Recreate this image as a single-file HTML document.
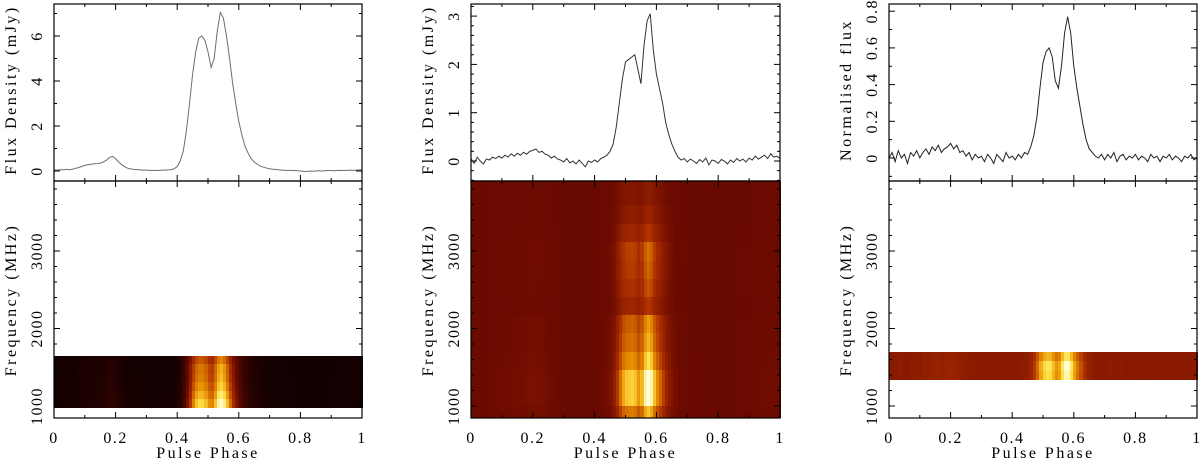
<!DOCTYPE html>
<html><head><meta charset="utf-8"><style>
html,body{margin:0;padding:0;background:#fff;}
svg{display:block;font-family:"Liberation Serif",serif;}
</style></head><body>
<svg id="fig" width="1200" height="460" viewBox="0 0 1200 460" xmlns="http://www.w3.org/2000/svg"></svg>
<script>
// ---- data ----
const phaseTicks = [0, 0.2, 0.4, 0.6, 0.8, 1];
const phaseTickLabels = ["0", "0.2", "0.4", "0.6", "0.8", "1"];
const freqTicks = [1000, 2000, 3000];
const freqTickLabels = ["1000", "2000", "3000"];

const profileA = [0.05,0.04,0.06,0.05,0.07,0.06,0.08,0.12,0.15,0.2,
0.25,0.28,0.3,0.32,0.33,0.35,0.4,0.48,0.6,0.65,
0.55,0.4,0.28,0.18,0.12,0.09,0.07,0.06,0.05,0.04,
0.04,0.03,0.03,0.02,0.03,0.04,0.04,0.05,0.06,0.1,
0.2,0.45,0.9,1.8,3.0,4.3,5.3,5.9,6.0,5.8,
5.3,4.6,5.0,6.2,7.05,6.8,6.0,5.0,3.9,3.0,
2.2,1.6,1.1,0.8,0.55,0.4,0.3,0.22,0.17,0.13,
0.1,0.08,0.07,0.05,0.04,0.03,0.03,0.02,0.02,0.01,
0.0,-0.01,-0.02,0,-0.01,0,0.01,0,0.01,0.02,
0.02,0.01,0.02,0.03,0.02,0.03,0.04,0.03,0.04,0.05,0.05];

const profileB = [0.05,-0.05,0.08,0.0,-0.06,0.04,0.02,0.08,0.05,0.1,
0.06,0.12,0.08,0.15,0.1,0.16,0.12,0.18,0.14,0.2,
0.22,0.25,0.18,0.2,0.14,0.12,0.06,0.1,0.04,0.02,
-0.02,0.05,-0.04,0.0,-0.06,0.02,-0.05,-0.12,0.0,-0.03,
0.02,-0.02,0.05,0.08,0.12,0.2,0.35,0.7,1.2,1.7,
2.05,2.1,2.15,2.2,1.9,1.6,2.4,2.9,3.05,2.3,
1.8,1.5,1.2,0.8,0.55,0.35,0.2,0.08,0.02,0.05,
-0.02,0.04,0.0,-0.05,0.03,-0.02,0.06,-0.08,0.02,0.0,
-0.05,0.03,0.0,-0.06,0.02,-0.03,0.05,0.0,0.04,-0.02,
0.06,0.02,0.1,0.04,0.08,0.12,0.05,0.15,0.08,0.1,0.05];

const profileC = [0.0,0.03,-0.02,0.04,0.0,0.02,-0.03,0.03,0.01,0.04,
0.0,0.03,0.05,0.02,0.06,0.04,0.07,0.03,0.05,0.06,
0.08,0.05,0.07,0.03,0.04,0.01,0.03,-0.01,0.02,0.0,
0.01,-0.02,0.02,0.0,-0.03,0.02,0.0,-0.02,0.03,0.0,
0.01,-0.01,0.02,0.0,0.03,0.02,0.06,0.12,0.22,0.38,
0.52,0.58,0.6,0.55,0.42,0.38,0.5,0.68,0.77,0.68,
0.5,0.38,0.28,0.18,0.1,0.05,0.03,0.01,0.0,0.02,
-0.01,0.02,0.0,0.03,-0.02,0.01,0.02,-0.01,0.01,0.0,
0.02,-0.01,0.01,0.0,-0.02,0.02,0.0,0.01,-0.02,0.01,
0.0,0.02,-0.01,0.01,0.0,-0.02,0.01,0.0,0.02,-0.01,0.0];

// frequency channel edges (MHz) and channel gains
const chanEdgesA = [990, 1100, 1210, 1320, 1430, 1540, 1650];
const chanGainA = [1.0, 0.92, 0.85, 0.8, 0.78, 0.7];
const chanEdgesB = [860, 1010, 1245, 1480, 1715, 1950, 2185, 2420, 2655, 2890, 3125, 3360, 3595, 3900];
const chanGainB = [0.7, 1.0, 1.0, 0.78, 0.66, 0.6, 0.32, 0.4, 0.45, 0.48, 0.32, 0.22, 0.16];
const chanEdgesC = [1350, 1465, 1580, 1700];
const chanGainC = [0.95, 1.0, 0.8];

// ---- drawing ----
const NS = "http://www.w3.org/2000/svg";
const svg = document.getElementById("fig");
function mk(tag, attrs, parent) {
  const e = document.createElementNS(NS, tag);
  for (const k in attrs) e.setAttribute(k, attrs[k]);
  (parent || svg).appendChild(e);
  return e;
}
function cmap(t) {
  t = Math.max(0, Math.min(1, t));
  const stops = [[0,[18,0,0]],[0.3,[108,10,0]],[0.5,[170,45,0]],[0.7,[230,140,0]],[0.85,[255,225,70]],[1,[255,255,225]]];
  for (let i = 1; i < stops.length; i++) {
    if (t <= stops[i][0]) {
      const a = stops[i-1], b = stops[i], f = (t - a[0]) / (b[0] - a[0]);
      const c = a[1].map((v, j) => Math.round(v + (b[1][j] - v) * f));
      return "rgb(" + c.join(",") + ")";
    }
  }
  return "rgb(255,255,225)";
}

const panels = [
  {key:"a", x0:54, x1:362, prof:profileA, y0px:171, pxPer:22.5,
   yTicks:[0,2,4,6], yTickLabels:["0","2","4","6"], yMinor:1, yLabel:"Flux Density (mJy)", line:"#6e6e6e",
   edges:chanEdgesA, gains:chanGainA, scale:7.05, offset:0.0, span:1.0},
  {key:"b", x0:471, x1:780, prof:profileB, y0px:161, pxPer:48.3,
   yTicks:[0,1,2,3], yTickLabels:["0","1","2","3"], yMinor:0.2, yLabel:"Flux Density (mJy)", line:"#333",
   edges:chanEdgesB, gains:chanGainB, scale:3.05, offset:0.29, span:0.75},
  {key:"c", x0:889, x1:1197, prof:profileC, y0px:158, pxPer:183.5,
   yTicks:[0,0.2,0.4,0.6,0.8], yTickLabels:["0","0.2","0.4","0.6","0.8"], yMinor:0.1, yLabel:"Normalised flux", line:"#222",
   edges:chanEdgesC, gains:chanGainC, scale:0.77, offset:0.39, span:0.63}
];
const topY = 4, midY = 181, botY = 418;
const f1000 = 406, fPer = 0.0775; // px per MHz
const FONT = {"font-size": 16, "letter-spacing": "1.5px"};

panels.forEach(p => {
  const g = mk("g", {});
  
  
  const xs = v => p.x0 + v * (p.x1 - p.x0);
  const ys = v => p.y0px - v * p.pxPer;
  const fs = f => f1000 - (f - 1000) * fPer;

  // heatmap
  const hm = mk("g", {"shape-rendering": "crispEdges"}, g);
  
  
  const n = p.prof.length - 1;
  for (let c = 0; c < p.gains.length; c++) {
    const yT = Math.round(Math.max(midY, fs(p.edges[c+1]))), yB = Math.round(Math.min(botY, fs(p.edges[c])));
    for (let i = 0; i < n; i++) {
      const v = (p.prof[i] + p.prof[i+1]) / 2 / p.scale * p.gains[c];
      const x = Math.floor(xs(i/n)), x2 = Math.ceil(xs((i+1)/n));
      const r = mk("rect", {x: x, y: yT, width: x2 - x + 1, height: yB - yT + (c < p.gains.length - 1 ? 1 : 0), fill: cmap(p.offset + p.span * Math.max(0, v))}, hm);
      
      
    }
  }

  // profile line
  const pts = p.prof.map((v, i) => xs(i/n).toFixed(2) + "," + ys(v).toFixed(2)).join(" ");
  const pl = mk("polyline", {points: pts, fill: "none", stroke: p.line, "stroke-width": 1}, g);
  
  

  // frames
  [[topY, midY], [midY, botY]].forEach((b, k) => {
    const fr = mk("rect", {x: p.x0, y: b[0], width: p.x1 - p.x0, height: b[1] - b[0], fill: "none", stroke: "#000", "stroke-width": 1.2}, g);
    
    
    for (let t = 0; t <= 10; t++) {
      const x = xs(t / 10), L = t % 2 === 0 ? 6 : 3;
      mk("line", {x1: x, x2: x, y1: b[1], y2: b[1] - L, stroke: "#000"}, g);
      mk("line", {x1: x, x2: x, y1: b[0], y2: b[0] + L, stroke: "#000"}, g);
    }
  });
  const yMaxV = (p.y0px - topY) / p.pxPer, yMinV = (p.y0px - midY) / p.pxPer;
  for (let v = Math.ceil(yMinV / p.yMinor) * p.yMinor; v <= yMaxV + 1e-9; v += p.yMinor) {
    const y = ys(v);
    const major = p.yTicks.some(t => Math.abs(t - v) < 1e-6), L = major ? 6 : 3;
    mk("line", {x1: p.x0, x2: p.x0 + L, y1: y, y2: y, stroke: "#000"}, g);
    mk("line", {x1: p.x1, x2: p.x1 - L, y1: y, y2: y, stroke: "#000"}, g);
  }
  p.yTicks.forEach((t, i) => {
    const y = ys(t);
    const tx = mk("text", Object.assign({x: p.x0 - 12, y: y, "text-anchor": "middle", transform: `rotate(-90 ${p.x0 - 12} ${y})`}, FONT), g);
    tx.textContent = p.yTickLabels[i];
    
    
  });
  for (let f = 1000; f <= 3900; f += 200) {
    const y = fs(f), L = f % 1000 === 0 ? 6 : 3;
    mk("line", {x1: p.x0, x2: p.x0 + L, y1: y, y2: y, stroke: "#000"}, g);
    mk("line", {x1: p.x1, x2: p.x1 - L, y1: y, y2: y, stroke: "#000"}, g);
  }
  freqTicks.forEach((f, i) => {
    const y = fs(f);
    const tx = mk("text", Object.assign({x: p.x0 - 12, y: y, "text-anchor": "middle", transform: `rotate(-90 ${p.x0 - 12} ${y})`}, FONT), g);
    tx.textContent = freqTickLabels[i];
    
    
  });
  phaseTicks.forEach((t, i) => {
    const tx = mk("text", Object.assign({x: xs(t), y: 443, "text-anchor": "middle"}, FONT), g);
    tx.textContent = phaseTickLabels[i];
    
    
  });
  const xt = mk("text", {x: (p.x0 + p.x1) / 2, y: 458, "font-size": 16, "letter-spacing": "2.5px", "text-anchor": "middle"}, g);
  xt.textContent = "Pulse Phase";
  
  
  const lx = p.x0 - 38;
  const yt1 = mk("text", {x: lx, y: 90, "font-size": 16, "letter-spacing": "2.5px", "text-anchor": "middle", transform: `rotate(-90 ${lx} 90)`}, g);
  yt1.textContent = p.yLabel;
  
  
  const yt2 = mk("text", {x: lx, y: 300, "font-size": 16, "letter-spacing": "2.5px", "text-anchor": "middle", transform: `rotate(-90 ${lx} 300)`}, g);
  yt2.textContent = "Frequency (MHz)";
  
  
});
</script>
</body></html>
